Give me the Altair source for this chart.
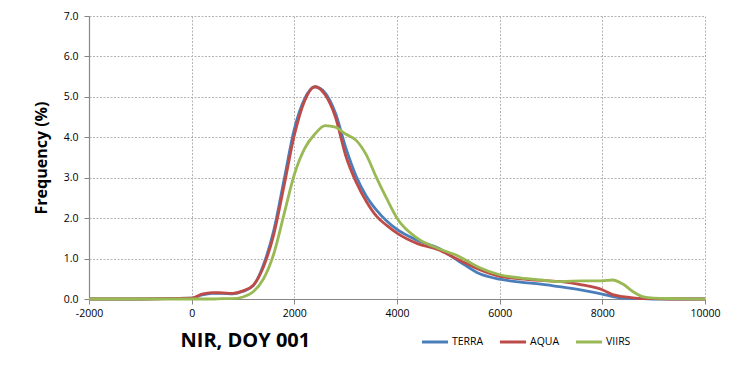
import altair as alt
import pandas as pd

x_vals = [-2000, -1000, 0, 200, 400, 600, 800, 1000, 1200, 1400, 1600, 1800, 2000,
          2200, 2400, 2600, 2800, 3000, 3200, 3400, 3600, 3800, 4000, 4400, 4800,
          5200, 5600, 6000, 6400, 6800, 7200, 7600, 8000, 8200, 8400, 8600, 8800,
          9000, 9400, 10000]

terra = [0, 0, 0.02, 0.10, 0.14, 0.14, 0.13, 0.19, 0.33, 0.85, 1.70, 2.95, 4.20,
         4.95, 5.25, 5.10, 4.60, 3.75, 3.05, 2.55, 2.20, 1.93, 1.72, 1.45, 1.26,
         0.94, 0.63, 0.49, 0.42, 0.37, 0.30, 0.22, 0.12, 0.06, 0.02, 0.01, 0.01,
         0, 0, 0]

aqua = [0, 0, 0.02, 0.12, 0.16, 0.15, 0.14, 0.20, 0.34, 0.80, 1.60, 2.80, 4.05,
        4.90, 5.25, 5.05, 4.50, 3.55, 2.90, 2.42, 2.05, 1.82, 1.63, 1.37, 1.22,
        0.97, 0.73, 0.56, 0.50, 0.46, 0.43, 0.35, 0.23, 0.11, 0.06, 0.03, 0.01,
        0.01, 0, 0]

viirs = [0, 0, 0, 0, 0, 0.01, 0.01, 0.05, 0.18, 0.50, 1.12, 2.10, 3.08,
         3.72, 4.08, 4.29, 4.25, 4.08, 3.93, 3.57, 3.00, 2.48, 2.00, 1.50, 1.25,
         1.06, 0.78, 0.60, 0.52, 0.47, 0.43, 0.45, 0.45, 0.47, 0.37, 0.18, 0.05,
         0.02, 0.01, 0]

series_names = ["TERRA", "AQUA", "VIIRS"]
series_colors = ["#4A7EBB", "#BE4B48", "#98B954"]

rows = []
for name, vals in zip(series_names, [terra, aqua, viirs]):
    for xv, yv in zip(x_vals, vals):
        rows.append({"x": xv, "y": yv, "series": name})
df = pd.DataFrame(rows)

FONT = "Open Sans"

chart = alt.Chart(df).mark_line(strokeWidth=2.8, interpolate="monotone").encode(
    x=alt.X("x:Q",
            scale=alt.Scale(domain=[-2000, 10000], nice=False, zero=False),
            axis=alt.Axis(values=[-2000, 0, 2000, 4000, 6000, 8000, 10000],
                          labelExpr="'' + datum.value",
                          title="NIR, DOY 001", labelFlush=False,
                          titleFont=FONT, titleFontSize=20, titleFontWeight="bold",
                          titleColor="#000000", titleAlign="left", titleAnchor="start",
                          titleX=91, titleY=47, titleBaseline="alphabetic")),
    y=alt.Y("y:Q",
            scale=alt.Scale(domain=[0, 7], nice=False),
            axis=alt.Axis(values=[0, 1, 2, 3, 4, 5, 6, 7], format=".1f",
                          title="Frequency (%)",
                          titleFont=FONT, titleFontSize=16, titleFontWeight="bold",
                          titleColor="#000000", titlePadding=14)),
    color=alt.Color("series:N",
                    scale=alt.Scale(domain=series_names, range=series_colors),
                    legend=alt.Legend(orient="none", legendX=331, legendY=311,
                                      direction="horizontal", title=None,
                                      symbolType="stroke", symbolSize=680,
                                      symbolStrokeWidth=3, labelFont=FONT,
                                      labelFontSize=10.5, labelColor="#000000",
                                      labelOffset=2, columnPadding=9)),
    order=alt.Order("x:Q"),
).properties(
    width=616, height=283,
    autosize=alt.AutoSizeParams(type="none"),
    padding={"left": 81, "top": 8, "right": 16, "bottom": 58},
).configure_view(
    strokeWidth=0
).configure_axis(
    labelFont=FONT, labelFontSize=10.5, labelColor="#000000",
    domainColor="#868686", domainWidth=1.2,
    tickColor="#868686", tickSize=5,
    gridColor="#B4B4B4", gridDash=[2, 1.5], gridWidth=1,
    labelPadding=4,
).configure_axisY(
    labelPadding=6
)

chart.save("out.html", embed_options={"renderer": "svg", "actions": False})
